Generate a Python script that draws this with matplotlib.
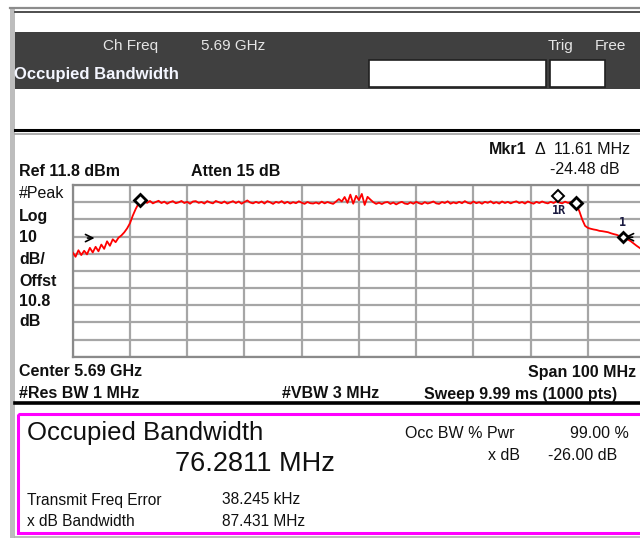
import matplotlib
matplotlib.use("Agg")
import matplotlib.pyplot as plt
from matplotlib.patches import Rectangle
import numpy as np

plt.rcParams['font.family'] = ['Liberation Sans', 'DejaVu Sans']

# Instrument settings
center_ghz = 5.69
span_mhz = 100.0
ref_dbm = 11.8
db_per_div = 10

# Trace levels (dBm), one every 0.5 MHz across the span (201 points)
levels = [
    # 0 - 12 MHz: lower skirt
    -27.5, -30.0, -26.2, -29.0, -26.5, -28.6, -24.8, -27.5, -24.2, -26.8,
    -22.9, -25.4, -21.0, -23.6, -19.8, -21.5, -18.9, -17.6, -15.8, -13.5,
    -10.5, -6.0, -2.2, 1.0, 2.0,
    # 12.5 - 86.5 MHz: occupied channel
    2.3, 1.4, 2.5, 1.1, 1.9, 2.6, 1.3, 2.1, 0.9, 1.8,
    2.4, 1.2, 1.7, 2.5, 1.3, 2.0, 0.9, 2.2, 2.4, 1.4,
    1.9, 1.0, 2.4, 1.6, 1.1, 2.5, 1.8, 1.2, 2.2, 1.0,
    1.7, 2.4, 1.3, 2.2, 0.9, 1.9, 2.8, 1.6, 1.1, 2.0,
    1.3, 2.2, 1.0, 2.4, 1.7, 0.8, 2.0, 1.4, 2.4, 1.1,
    2.0, 1.0, 1.8, 1.2, 2.3, 1.5, 0.8, 1.9, 1.2, 1.0,
    1.6, 0.9, 2.1, 1.1, 1.9, 1.3, 0.8, 2.2, 3.6, 2.2,
    4.8, 1.4, 6.2, 0.9, 5.5, 3.0, 6.6, 0.2, 4.9, 3.3,
    1.8, 0.8, 1.5, 0.7, 1.6, 1.9, 0.8, 1.6, 0.5, 1.4,
    2.0, 1.0, 0.7, 1.7, 0.9, 2.0, 1.2, 0.7, 1.8, 1.0,
    1.5, 2.2, 1.1, 0.8, 1.9, 1.3, 2.3, 0.9, 1.7, 1.1,
    2.0, 1.2, 2.4, 1.4, 1.0, 2.2, 1.2, 1.8, 0.9, 2.0,
    1.4, 2.3, 1.1, 1.8, 1.0, 2.2, 1.3, 2.0, 1.1, 1.8,
    2.3, 1.3, 1.9, 1.0, 2.2, 1.5, 0.9, 2.0, 1.3, 2.2,
    1.5, 1.1, 2.0, 1.3, 2.3, 1.6, 1.1, 2.1, 1.4,
    # 87 - 100 MHz: upper skirt
    1.8, 1.5, 0.2, -3.5, -8.3, -12.0, -13.2, -13.7, -14.1, -14.4,
    -14.9, -15.1, -15.4, -15.7, -16.3, -16.8, -17.2, -17.9, -18.3, -19.0,
    -20.0, -21.0, -22.3, -23.6, -24.8, -25.9, -27.0,
]

# Markers: (offset from start in MHz, level dBm)
obw_edges = [(11.76, 3.1), (87.86, 1.5)]
mkr_ref = (84.76, 5.6)
mkr_1 = (96.1, -18.3)

start_ghz = center_ghz - span_mhz / 2000
stop_ghz = center_ghz + span_mhz / 2000
freq = np.linspace(start_ghz, stop_ghz, len(levels))


def mhz(off):
    return start_ghz + off / 1000


fig = plt.figure(figsize=(6.4, 5.38), dpi=100)
fig.patch.set_facecolor('white')

# background / frame drawn in pixel coordinates
ax0 = fig.add_axes([0, 0, 1, 1])
ax0.set_xlim(0, 640)
ax0.set_ylim(538, 0)
ax0.axis('off')

ax0.add_patch(Rectangle((10, 7), 5, 531, color='#bdbdbd', lw=0))
ax0.plot([10, 640], [7.5, 7.5], color='#8c8c8c', lw=1.6)
ax0.plot([15, 640], [12, 12], color='#303030', lw=1.2)
ax0.add_patch(Rectangle((15, 31.5), 625, 57, color='#404040', lw=0))
ax0.plot([15, 640], [129.5, 129.5], color='black', lw=2.2)
ax0.plot([15, 640], [133.5, 133.5], color='#a0a0a0', lw=1.2)
ax0.plot([15, 640], [403, 403], color='black', lw=2.6)
ax0.plot([15, 640], [536.5, 536.5], color='#b0b0b0', lw=1.2)
ax0.add_patch(Rectangle((17.5, 413.5), 640, 119.5, fill=False,
                        edgecolor='#ff00ff', lw=2.2))

# header boxes
ax0.add_patch(Rectangle((369, 60), 177, 27, facecolor='white',
                        edgecolor='#202020', lw=1.2))
ax0.add_patch(Rectangle((550, 60), 55, 27, facecolor='white',
                        edgecolor='#202020', lw=1.2))

hdr = dict(color='#e6e6e6', fontsize=11, va='center')
ax0.text(103, 46, 'Ch Freq', **hdr)
ax0.text(201, 46, '5.69 GHz', **hdr)
ax0.text(548, 46, 'Trig', **hdr)
ax0.text(595, 46, 'Free', **hdr)
ax0.text(14, 74, 'Occupied Bandwidth', color='#f4f6ff', fontsize=12,
         fontweight='bold', va='center')

# annotation text around the graticule
b = dict(fontsize=11.5, fontweight='bold', va='center', color='#101010')
r = dict(fontsize=11.5, va='center', color='#101010')
ax0.text(489, 149, 'Mkr1', **b)
ax0.text(630, 149, '\u0394  11.61 MHz', ha='right', **r)
ax0.text(620, 170, '-24.48 dB', ha='right', **r)
ax0.text(19, 172, 'Ref 11.8 dBm', **b)
ax0.text(191, 172, 'Atten 15 dB', **b)
ax0.text(19, 193, '#Peak', **r)
for txt, y in [('Log', 216), ('10', 237), ('dB/', 260), ('Offst', 282),
               ('10.8', 302), ('dB', 322)]:
    ax0.text(19, y, txt, **b)
ax0.text(19, 372, 'Center 5.69 GHz', **b)
ax0.text(636, 372, 'Span 100 MHz', ha='right', **b)
ax0.text(19, 394, '#Res BW 1 MHz', **b)
ax0.text(282, 394, '#VBW 3 MHz', **b)
ax0.text(424, 394, 'Sweep 9.99 ms (1000 pts)', **b)

# results panel
ax0.text(27, 433, 'Occupied Bandwidth', fontsize=18.5, va='center', color='#101010')
ax0.text(175, 464, '76.2811 MHz', fontsize=19.5, va='center', color='#101010')
ax0.text(405, 433, 'Occ BW % Pwr', fontsize=11.5, va='center', color='#101010')
ax0.text(629, 433, '99.00 %', ha='right', fontsize=11.5, va='center', color='#101010')
ax0.text(520, 455, 'x dB', ha='right', fontsize=11.5, va='center', color='#101010')
ax0.text(617, 455, '-26.00 dB', ha='right', fontsize=11.5, va='center', color='#101010')
ax0.text(27, 500, 'Transmit Freq Error', fontsize=11.2, va='center', color='#101010')
ax0.text(222, 500, '38.245 kHz', fontsize=11.2, va='center', color='#101010')
ax0.text(27, 522, 'x dB Bandwidth', fontsize=11.2, va='center', color='#101010')
ax0.text(222, 522, '87.431 MHz', fontsize=11.2, va='center', color='#101010')

# graticule + trace
ax = fig.add_axes([72.7 / 640, 1 - 356.7 / 538, 572.5 / 640, 171.7 / 538])
ax.set_facecolor('white')
ax.set_xlim(start_ghz, stop_ghz)
ax.set_ylim(ref_dbm - 10 * db_per_div, ref_dbm)
ax.set_xticks(np.linspace(start_ghz, stop_ghz, 11))
ax.set_yticks(np.linspace(ref_dbm - 10 * db_per_div, ref_dbm, 11))
ax.tick_params(length=0, labelbottom=False, labelleft=False)
ax.grid(True, color='#a6a6a6', lw=1.6)
for s in ax.spines.values():
    s.set_color('#8a8a8a')
    s.set_linewidth(1.6)

ax.plot(freq, levels, color='#ff0000', lw=1.3, zorder=3)

mk = dict(marker='D', markersize=6.5, markerfacecolor='white',
          markeredgecolor='black', markeredgewidth=2.0, zorder=5, clip_on=False)
for off, lvl in obw_edges:
    ax.plot(mhz(off), lvl, **mk)
ax.plot(mhz(mkr_ref[0]), mkr_ref[1], **dict(mk, markeredgewidth=1.4))
ax.plot(mhz(mkr_1[0]), mkr_1[1], **dict(mk, markersize=5.5))
ax.text(mhz(mkr_ref[0] + 0.2), mkr_ref[1] - 8.5, '1R', fontsize=8.5,
        family='DejaVu Sans Mono', fontweight='bold', color='#1a1a40',
        ha='center', va='center')
ax.text(mhz(mkr_1[0]), mkr_1[1] + 8.0, '1', fontsize=8.5,
        family='DejaVu Sans Mono', fontweight='bold', color='#1a1a40',
        ha='center', va='center')

# x dB bandwidth arrows
arr = dict(arrowstyle='->', color='black', lw=1.2, mutation_scale=13)
ax.annotate('', xy=(mhz(4.3), -19.1), xytext=(mhz(2.1), -19.1),
            arrowprops=arr, annotation_clip=False)
ax.annotate('', xy=(mhz(95.9), -18.6), xytext=(mhz(98.3), -18.6),
            arrowprops=arr, annotation_clip=False)

fig.savefig('out.png', dpi=100, facecolor='white')
